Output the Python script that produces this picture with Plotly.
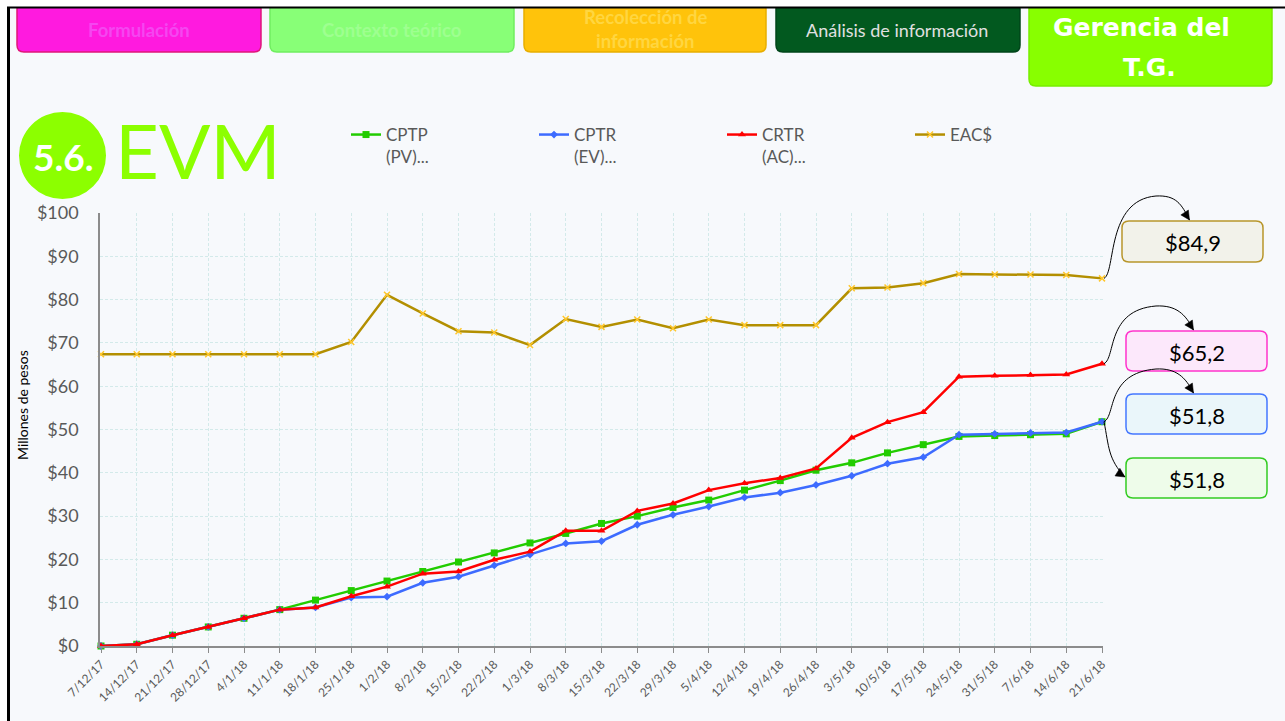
import plotly.graph_objects as go

# ---- data -------------------------------------------------------------
fechas = ["7/12/17", "14/12/17", "21/12/17", "28/12/17", "4/1/18", "11/1/18",
          "18/1/18", "25/1/18", "1/2/18", "8/2/18", "15/2/18", "22/2/18",
          "1/3/18", "8/3/18", "15/3/18", "22/3/18", "29/3/18", "5/4/18",
          "12/4/18", "19/4/18", "26/4/18", "3/5/18", "10/5/18", "17/5/18",
          "24/5/18", "31/5/18", "7/6/18", "14/6/18", "21/6/18"]

cptp_pv = [0.0, 0.4, 2.5, 4.4, 6.4, 8.4, 10.6, 12.8, 15.0, 17.2, 19.4, 21.5,
           23.8, 26.0, 28.3, 30.0, 32.0, 33.7, 36.0, 38.2, 40.6, 42.3, 44.6,
           46.5, 48.4, 48.6, 48.8, 49.0, 51.8]

cptr_ev = [0.0, 0.4, 2.5, 4.4, 6.4, 8.4, 8.9, 11.2, 11.4, 14.6, 16.0, 18.6,
           21.1, 23.7, 24.2, 28.0, 30.3, 32.2, 34.3, 35.4, 37.2, 39.3, 42.1,
           43.6, 48.8, 49.0, 49.2, 49.3, 51.8]

crtr_ac = [0.0, 0.4, 2.5, 4.4, 6.4, 8.4, 8.9, 11.5, 13.7, 16.7, 17.2, 19.9,
           21.8, 26.6, 26.6, 31.2, 32.9, 36.0, 37.6, 38.8, 41.0, 48.1, 51.7,
           54.0, 62.2, 62.4, 62.6, 62.7, 65.2]

eac = [67.4, 67.4, 67.4, 67.4, 67.4, 67.4, 67.4, 70.2, 81.1, 76.8, 72.7, 72.4,
       69.5, 75.5, 73.7, 75.4, 73.4, 75.4, 74.1, 74.1, 74.1, 82.6, 82.8,
       83.8, 85.9, 85.8, 85.8, 85.7, 84.9]

y_ticks = [0, 10, 20, 30, 40, 50, 60, 70, 80, 90, 100]
y_labels = ["$" + str(v) for v in y_ticks]

idx = list(range(len(fechas)))

# ---- page geometry (pixels) -------------------------------------------
W, H = 1285, 721
PL, PR, PT, PB = 100, 1103, 213, 646          # plot area edges
XR = (-0.028, len(fechas) - 1 + 0.028)
YR = (0, 100)
FONT = "Lato"
WIDE = "DejaVu Sans"
GRID = "#D3EAEA"
TXT = "#595959"


def P(px, py):
    """pixel -> paper coordinates"""
    return (px - PL) / (PR - PL), (PB - py) / (PB - PT)


def data_px(i, v):
    x = PL + (i - XR[0]) / (XR[1] - XR[0]) * (PR - PL)
    y = PB - (v - YR[0]) / (YR[1] - YR[0]) * (PB - PT)
    return x, y


def path(cmds):
    out = []
    for c, pts in cmds:
        s = c
        for (x, y) in pts:
            a, b = P(x, y)
            s += f" {a:.5f},{b:.5f}"
        out.append(s)
    return " ".join(out)


def rrect(x0, y0, x1, y1, r):
    return path([("M", [(x0 + r, y0)]), ("L", [(x1 - r, y0)]),
                 ("Q", [(x1, y0), (x1, y0 + r)]), ("L", [(x1, y1 - r)]),
                 ("Q", [(x1, y1), (x1 - r, y1)]), ("L", [(x0 + r, y1)]),
                 ("Q", [(x0, y1), (x0, y1 - r)]), ("L", [(x0, y0 + r)]),
                 ("Q", [(x0, y0), (x0 + r, y0)]), ("Z", [])])


def arrowhead(tip, d, length=9, half=4.5):
    n = (d[0] ** 2 + d[1] ** 2) ** 0.5
    ux, uy = d[0] / n, d[1] / n
    bx, by = tip[0] - ux * length, tip[1] - uy * length
    px_, py_ = -uy, ux
    return path([("M", [tip]), ("L", [(bx + px_ * half, by + py_ * half)]),
                 ("L", [(bx - px_ * half, by - py_ * half)]), ("Z", [])])


def fmt(v):
    return "$" + f"{v:.1f}".replace(".", ",")


# ---- traces -------------------------------------------------------------
fig = go.Figure()
fig.add_trace(go.Scatter(
    x=idx, y=cptp_pv, name="CPTP<br>(PV)...", mode="lines+markers",
    line=dict(color="#22CC00", width=2.5),
    marker=dict(symbol="square", size=7, color="#22CC00"), cliponaxis=False))
fig.add_trace(go.Scatter(
    x=idx, y=cptr_ev, name="CPTR<br>(EV)...", mode="lines+markers",
    line=dict(color="#3D6BFF", width=2.5),
    marker=dict(symbol="diamond", size=6, color="#3D6BFF"), cliponaxis=False))
fig.add_trace(go.Scatter(
    x=idx, y=crtr_ac, name="CRTR<br>(AC)...", mode="lines+markers",
    line=dict(color="#FF0000", width=2.5),
    marker=dict(symbol="triangle-up", size=7, color="#FF0000"), cliponaxis=False))
fig.add_trace(go.Scatter(
    x=idx, y=eac, name="EAC$", mode="lines+markers",
    line=dict(color="#B38F00", width=2.5),
    marker=dict(symbol="x-thin", size=6, color="#FFC72C",
                line=dict(color="#FFC72C", width=1.5)), cliponaxis=False))

shapes = []
annotations = []

# ---- header buttons ------------------------------------------------------
buttons = [
    # x0, x1, y1, fill, border
    (17, 261, 52, "#FF1ADF", "#E0177A"),
    (270, 514, 52, "#88FF77", "#70EE60"),
    (524, 766, 52, "#FFC30B", "#E8AE00"),
    (776, 1020, 52, "#02591F", "#01451A"),
    (1029, 1272, 86, "#88FF00", "#77EE00"),
]
for x0, x1, y1, fill, border in buttons:
    shapes.append(dict(type="path", path=rrect(x0, 2, x1, y1, 7),
                       xref="paper", yref="paper", fillcolor=fill,
                       line=dict(color=border, width=1.5)))

def label(px, py, text, size, color, bold=False, family=FONT):
    x, y = P(px, py)
    annotations.append(dict(
        x=x, y=y, xref="paper", yref="paper", text=text, showarrow=False,
        xanchor="center", yanchor="middle",
        font=dict(family=family, size=size, color=color,
                  weight="bold" if bold else "normal")))

label(139, 30, "Formulación", 18.5, "#F546F0", bold=True)
label(392, 30, "Contexto teórico", 18.5, "#9EFF90", bold=True)
label(645, 17, "Recolección de", 18.5, "#FFD640", bold=True)
label(645, 41, "información", 18.5, "#FFD640", bold=True)
label(897, 30, "Análisis de información", 18, "#E0E0E0")
label(1141, 28, "Gerencia del", 25, "#FFFFFF", bold=True, family=WIDE)
label(1149, 67, "T.G.", 25, "#FFFFFF", bold=True, family=WIDE)

# white margin and black frame on top/left
for (a, b, c, d) in [(0, -2, W, 7), (-2, 0, 7, H)]:
    x0, y0 = P(a, b)
    x1, y1 = P(c, d)
    shapes.append(dict(type="rect", xref="paper", yref="paper",
                       x0=x0, y0=y0, x1=x1, y1=y1,
                       fillcolor="#FFFFFF", line=dict(width=0)))
x0, y0 = P(7, 7.5)
x1, y1 = P(W, 7.5)
shapes.append(dict(type="line", xref="paper", yref="paper", x0=x0, y0=y0,
                   x1=x1, y1=y1, line=dict(color="#000000", width=2)))
x0, y0 = P(8.5, 7)
x1, y1 = P(8.5, H)
shapes.append(dict(type="line", xref="paper", yref="paper", x0=x0, y0=y0,
                   x1=x1, y1=y1, line=dict(color="#000000", width=3)))

# ---- section title -------------------------------------------------------
cx0, cy0 = P(19, 199)
cx1, cy1 = P(106, 112)
shapes.append(dict(type="circle", xref="paper", yref="paper",
                   x0=cx0, y0=cy0, x1=cx1, y1=cy1,
                   fillcolor="#8CFF00", line=dict(width=0)))
label(63, 156, "5.6.", 37, "#FFFFFF", bold=True)
label(198, 150, "EVM", 76, "#8CFF00")

# y-axis title
xt, yt = P(22, 405)
annotations.append(dict(x=xt, y=yt, xref="paper", yref="paper",
                        text="Millones de pesos", textangle=-90,
                        showarrow=False, xanchor="center", yanchor="middle",
                        font=dict(family=FONT, size=14, color="#000000")))

# ---- callouts for the final values ---------------------------------------
last = len(fechas) - 1
callouts = [
    # series, box (x0, y0, x1, y1), fill, border, arrow style
    (eac, (1122, 221, 1263, 262), "#F2F2EA", "#B8962B", "up"),
    (crtr_ac, (1126, 331, 1267, 371), "#FCE8FB", "#FF33CC", "up"),
    (cptr_ev, (1126, 394, 1267, 434), "#EAF6FA", "#4477FF", "up"),
    (cptp_pv, (1126, 458, 1267, 498), "#EEFCEA", "#33CC22", "down"),
]
for series, (bx0, by0, bx1, by1), fill, border, style in callouts:
    shapes.append(dict(type="path", path=rrect(bx0, by0, bx1, by1, 7),
                       xref="paper", yref="paper", fillcolor=fill,
                       line=dict(color=border, width=1.5)))
    label((bx0 + bx1) / 2, (by0 + by1) / 2 + 1, fmt(series[last]), 22, "#000000")

    sx, sy = data_px(last, series[last])
    sx += 2
    if style == "up":
        tip = ((bx0 + bx1) / 2 - 3, by0 - 1)
        top = by0 - 25
        pk = (sx + 52, top)
        curve = path([("M", [(sx, sy)]),
                      ("C", [(sx + 12, sy - 6), (sx + 2, top + 4), pk]),
                      ("C", [(pk[0] + 20, top - 1), (tip[0] - 8, tip[1] - 16), tip])])
        head = arrowhead(tip, (0.55, 0.85))
    else:
        tip = (bx0 - 1, (by0 + by1) / 2 - 1)
        curve = path([("M", [(sx, sy)]),
                      ("C", [(sx + 5, sy + 25), (sx + 4, tip[1] - 18), tip])])
        head = arrowhead(tip, (0.85, 0.55))
    shapes.append(dict(type="path", path=curve, xref="paper", yref="paper",
                       line=dict(color="#000000", width=1)))
    shapes.append(dict(type="path", path=head, xref="paper", yref="paper",
                       fillcolor="#000000", line=dict(color="#000000", width=0.5)))

# ---- layout --------------------------------------------------------------
lx, ly = P(346, 117)
fig.update_layout(
    width=W, height=H,
    margin=dict(l=PL, r=W - PR, t=PT, b=H - PB, pad=0),
    paper_bgcolor="#F7F9FC", plot_bgcolor="#F7F9FC",
    showlegend=True,
    legend=dict(orientation="h", x=lx, y=ly, xanchor="left", yanchor="top",
                xref="paper", yref="paper",
                font=dict(family=FONT, size=17, color=TXT),
                entrywidth=143, entrywidthmode="pixels", valign="top",
                bgcolor="rgba(0,0,0,0)", itemwidth=30),
    xaxis=dict(type="linear", range=list(XR), tickvals=idx, ticktext=fechas,
               tickangle=-45, tickfont=dict(family=FONT, size=12, color=TXT),
               showgrid=True, gridcolor=GRID, griddash="3px,2px", gridwidth=1,
               ticks="outside", ticklen=5, tickcolor="#8C8C8C",
               showline=True, linecolor="#8C8C8C", linewidth=1.5,
               zeroline=False, fixedrange=True),
    yaxis=dict(range=list(YR), tickvals=y_ticks, ticktext=y_labels,
               tickfont=dict(family=FONT, size=18, color=TXT),
               showgrid=True, gridcolor=GRID, griddash="3px,2px", gridwidth=1,
               showline=True, linecolor="#8C8C8C", linewidth=1.5,
               ticks="", ticklabelstandoff=16, zeroline=False, fixedrange=True),
    shapes=shapes,
    annotations=annotations,
)

fig.write_html("out.html")
